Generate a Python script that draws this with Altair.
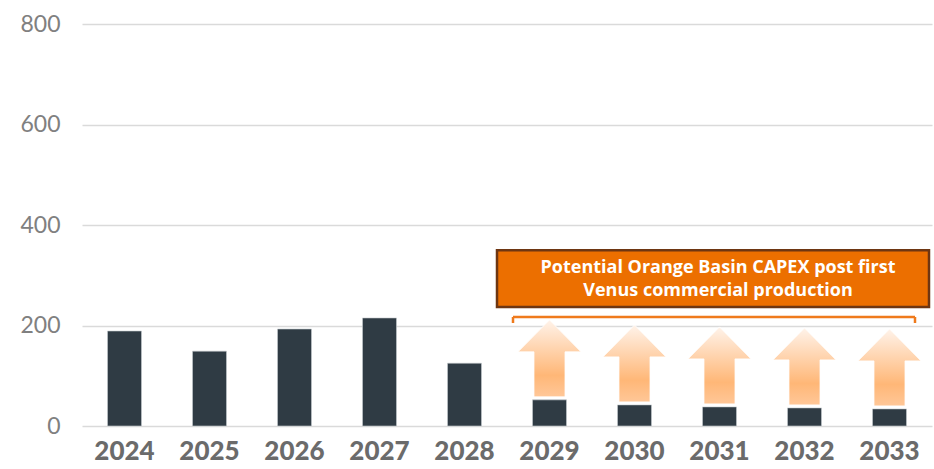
import altair as alt
import pandas as pd

years = ["2024", "2025", "2026", "2027", "2028", "2029", "2030", "2031", "2032", "2033"]
values = [189, 149, 193, 215, 125, 52, 42, 38, 36, 34]
arrow_years = ["2029", "2030", "2031", "2032", "2033"]
arrow_base = [52, 42, 38, 36, 34]
note_text = "Potential Orange Basin CAPEX post first\nVenus commercial  production"

bars_df = pd.DataFrame({"year": years, "value": values})
arrows_df = pd.DataFrame({"year": arrow_years, "value": arrow_base})
box_df = pd.DataFrame({"y1": [237], "y2": [350], "t": [note_text], "ym": [314]})
bracket_df = pd.DataFrame({"y": [217], "yt": [205]})

W, H = 850, 402
xscale = alt.Scale(domain=years, paddingInner=0.6, paddingOuter=0.3)
yscale = alt.Scale(domain=[0, 800], nice=False)

x_enc = alt.X("year:N", scale=xscale, sort=years, axis=alt.Axis(
    title=None, labelAngle=0, domain=False, ticks=False, labelPadding=12, grid=False,
    labelFont="Lato", labelFontSize=26, labelFontWeight=900, labelColor="#6b6b6b"))
y_enc = alt.Y("value:Q", scale=yscale, axis=alt.Axis(
    title=None, values=[0, 200, 400, 600, 800], domain=False, ticks=False,
    labelPadding=22, labelFont="Lato", labelFontSize=23, labelColor="#808080",
    gridColor="#dadada", gridWidth=1.5))

bars = alt.Chart(bars_df).mark_bar(color="#2f3b44", stroke="#c8ccd0", strokeWidth=0.6).encode(x=x_enc, y=y_enc)

arrow_path = "M0,-1 L0.818,-0.169 L0.403,-0.169 L0.403,1 L-0.403,1 L-0.403,-0.169 L-0.818,-0.169 Z"
grad = alt.Gradient(gradient="linear", x1=0, y1=0, x2=0, y2=1, stops=[
    alt.GradientStop(color="#fff3ea", offset=0),
    alt.GradientStop(color="#ffb777", offset=0.72),
    alt.GradientStop(color="#ffc798", offset=1)])
arrows = alt.Chart(arrows_df).mark_point(
    shape=arrow_path, size=77 * 77, filled=True, fill=grad, opacity=1,
    stroke="#ffffff", strokeWidth=0.8, yOffset=-41.5).encode(
    x=alt.X("year:N", scale=xscale, sort=years), y=alt.Y("value:Q", scale=yscale))

box = alt.Chart(box_df).mark_rect(fill="#ec6f00", stroke="#6e3612", strokeWidth=2.5).encode(
    x=alt.value(415), x2=alt.value(847),
    y=alt.Y("y1:Q", scale=yscale), y2="y2:Q")
box_text = alt.Chart(box_df).mark_text(
    font="Open Sans", fontSize=18, fontWeight="bold", color="white",
    lineBreak="\n", lineHeight=23, align="center", baseline="middle").encode(
    x=alt.value(636), y=alt.Y("ym:Q", scale=yscale), text="t:N")

br_h = alt.Chart(bracket_df).mark_rule(color="#ef7a1c", strokeWidth=2.5).encode(
    x=alt.value(431), x2=alt.value(833), y=alt.Y("y:Q", scale=yscale))
br_l = alt.Chart(bracket_df).mark_rule(color="#ef7a1c", strokeWidth=2.5).encode(
    x=alt.value(431), y=alt.Y("y:Q", scale=yscale), y2="yt:Q")
br_r = alt.Chart(bracket_df).mark_rule(color="#ef7a1c", strokeWidth=2.5).encode(
    x=alt.value(833), y=alt.Y("y:Q", scale=yscale), y2="yt:Q")

chart = alt.layer(bars, arrows, br_h, br_l, br_r, box, box_text).properties(
    width=W, height=H, background="white",
    autosize=alt.AutoSizeParams(type="none"),
    padding={"left": 82, "top": 24, "right": 2, "bottom": 43},
).configure_view(stroke="transparent", strokeWidth=0)

chart.save("out.html", embed_options={"renderer": "svg", "actions": False})
